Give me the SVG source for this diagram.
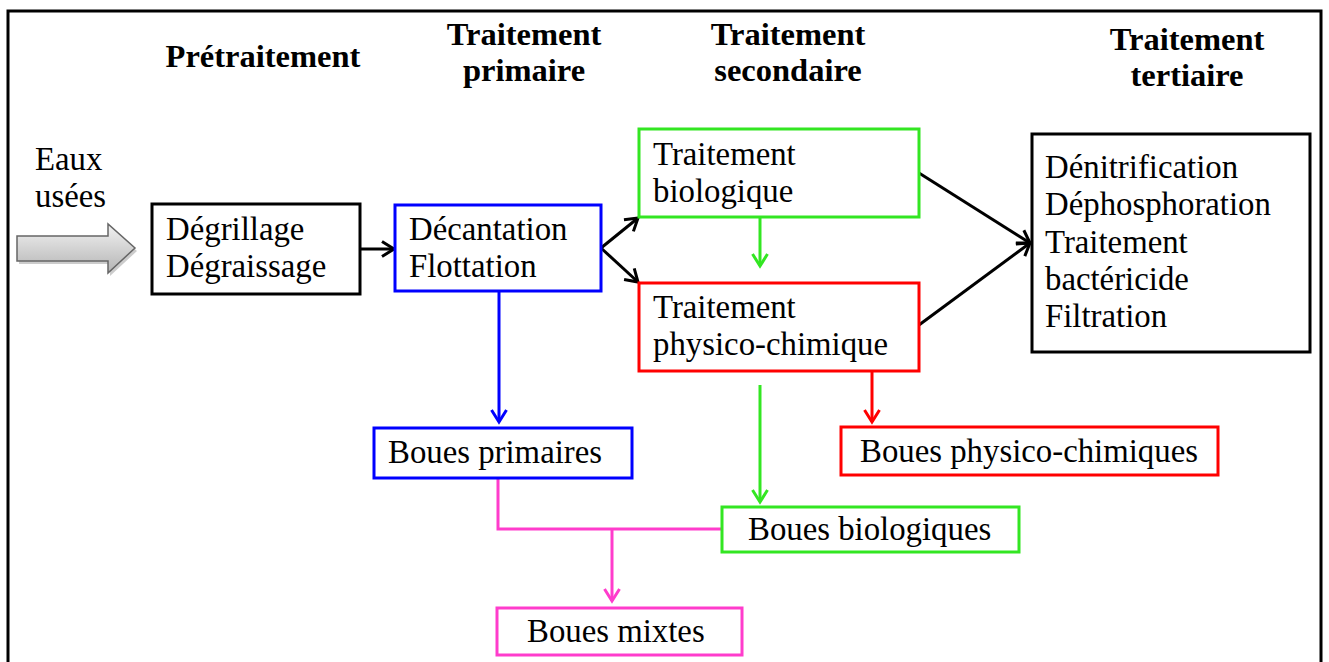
<svg xmlns="http://www.w3.org/2000/svg" width="1329" height="662" viewBox="0 0 1329 662">
<style>
text{font-family:"Liberation Serif","Times New Roman",serif;font-size:32.8px;fill:#000}
.h{font-weight:bold;text-anchor:middle;font-size:32.5px}
.box{fill:#fff;stroke-width:3}
.k{stroke:#000}.b{stroke:#0000ff}.g{stroke:#33e622}.r{stroke:#ff0000}.p{stroke:#ff3ccc}
.c{fill:none;stroke-width:3}
</style>
<defs>
<linearGradient id="gr" x1="0" y1="0" x2="0" y2="1">
<stop offset="0" stop-color="#f2f2f2"/><stop offset="1" stop-color="#b4b4b4"/>
</linearGradient>
<marker id="ak" viewBox="-14 -9 16 18" markerWidth="16" markerHeight="18" refX="0" refY="0" orient="auto" markerUnits="userSpaceOnUse" overflow="visible"><path d="M-12,-7.5 L0,0 L-12,7.5" fill="none" stroke="#000" stroke-width="3"/></marker>
<marker id="ab" viewBox="-14 -9 16 18" markerWidth="16" markerHeight="18" refX="0" refY="0" orient="auto" markerUnits="userSpaceOnUse" overflow="visible"><path d="M-12,-7.5 L0,0 L-12,7.5" fill="none" stroke="#0000ff" stroke-width="3"/></marker>
<marker id="ag" viewBox="-14 -9 16 18" markerWidth="16" markerHeight="18" refX="0" refY="0" orient="auto" markerUnits="userSpaceOnUse" overflow="visible"><path d="M-12,-7.5 L0,0 L-12,7.5" fill="none" stroke="#33e622" stroke-width="3"/></marker>
<marker id="ar" viewBox="-14 -9 16 18" markerWidth="16" markerHeight="18" refX="0" refY="0" orient="auto" markerUnits="userSpaceOnUse" overflow="visible"><path d="M-12,-7.5 L0,0 L-12,7.5" fill="none" stroke="#ff0000" stroke-width="3"/></marker>
<marker id="ap" viewBox="-14 -9 16 18" markerWidth="16" markerHeight="18" refX="0" refY="0" orient="auto" markerUnits="userSpaceOnUse" overflow="visible"><path d="M-12,-7.5 L0,0 L-12,7.5" fill="none" stroke="#ff3ccc" stroke-width="3"/></marker>
</defs>
<rect width="1329" height="662" fill="#fff"/>
<path d="M8,666 V11 H1321 V666" fill="none" stroke="#000" stroke-width="3"/>

<g id="headers">
<text class="h" x="263" y="67">Prétraitement</text>
<text class="h" x="524" y="45">Traitement</text>
<text class="h" x="524" y="81">primaire</text>
<text class="h" x="788" y="45">Traitement</text>
<text class="h" x="788" y="81">secondaire</text>
<text class="h" x="1187" y="50">Traitement</text>
<text class="h" x="1187" y="86">tertiaire</text>
</g>

<g id="input">
<polygon points="19,239 110,239 110,227 137,251 110,276 110,264 19,264" fill="#9a9a9a" opacity="0.5"/>
<polygon points="17,236 108,236 108,224 135,248 108,273 108,261 17,261" fill="url(#gr)" stroke="#666" stroke-width="1.5"/>
<text x="35" y="170">Eaux</text>
<text x="35" y="207">usées</text>
</g>

<g id="connectors">
<line class="c k" x1="360" y1="249" x2="394" y2="249" marker-end="url(#ak)"/>
<line class="c k" x1="601" y1="248" x2="638" y2="218" marker-end="url(#ak)"/>
<line class="c k" x1="601" y1="248" x2="638" y2="282" marker-end="url(#ak)"/>
<line class="c g" x1="760" y1="217" x2="760" y2="266" marker-end="url(#ag)"/>
<line class="c k" x1="919" y1="173" x2="1030" y2="243" marker-end="url(#ak)"/>
<line class="c k" x1="919" y1="325" x2="1030" y2="243" marker-end="url(#ak)"/>
<line class="c b" x1="499" y1="291" x2="499" y2="422" marker-end="url(#ab)"/>
<line class="c r" x1="872" y1="371" x2="872" y2="422" marker-end="url(#ar)"/>
<line class="c g" x1="760" y1="385" x2="760" y2="502" marker-end="url(#ag)"/>
<path class="c p" d="M498,478 V529 H722"/>
<line class="c p" x1="612" y1="529" x2="612" y2="601" marker-end="url(#ap)"/>
</g>

<g id="degrillage">
<rect class="box k" x="152" y="204" width="208" height="90"/>
<text x="166" y="240">Dégrillage</text>
<text x="166" y="277">Dégraissage</text>
</g>

<g id="decantation">
<rect class="box b" x="395" y="205" width="206" height="86"/>
<text x="409" y="240">Décantation</text>
<text x="409" y="277">Flottation</text>
</g>

<g id="biologique">
<rect class="box g" x="639" y="129" width="280" height="88"/>
<text x="653" y="165">Traitement</text>
<text x="653" y="202">biologique</text>
</g>

<g id="physico">
<rect class="box r" x="639" y="283" width="280" height="88"/>
<text x="653" y="318">Traitement</text>
<text x="653" y="355">physico-chimique</text>
</g>

<g id="tertiaire">
<rect class="box k" x="1032" y="134" width="278" height="218"/>
<text x="1045" y="178">Dénitrification</text>
<text x="1045" y="215">Déphosphoration</text>
<text x="1045" y="253">Traitement</text>
<text x="1045" y="290">bactéricide</text>
<text x="1045" y="327">Filtration</text>
</g>

<g id="boues-primaires">
<rect class="box b" x="374" y="428" width="258" height="50"/>
<text x="388" y="463">Boues primaires</text>
</g>

<g id="boues-physico">
<rect class="box r" x="841" y="427" width="377" height="48"/>
<text x="860" y="462">Boues physico-chimiques</text>
</g>

<g id="boues-biologiques">
<rect class="box g" x="722" y="507" width="297" height="45"/>
<text x="748" y="540">Boues biologiques</text>
</g>

<g id="boues-mixtes">
<rect class="box p" x="497" y="608" width="245" height="47"/>
<text x="527" y="642">Boues mixtes</text>
</g>
</svg>
